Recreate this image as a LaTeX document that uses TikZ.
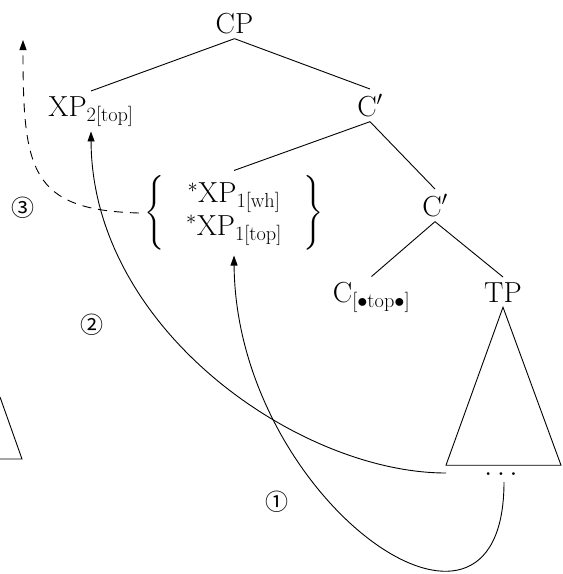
\RequirePackage{fix-cm}
\documentclass[tikz,border=0pt]{standalone}
\usepackage{exscale}
\usepackage{fontspec}
\newfontfamily\circfont{Noto Sans CJK JP}
\usetikzlibrary{arrows.meta}
\tikzset{
  tree/.style={inner sep=5pt, font=\fontsize{29}{32}\selectfont},
  circnum/.style={inner sep=0pt, font=\circfont\fontsize{23}{26}\selectfont},
  link/.style={line width=0.9pt},
  mover/.style={line width=0.9pt, -{Triangle[length=10pt,width=7pt]}},
}
\begin{document}
\begin{tikzpicture}[x=1pt,y=-1pt]
\useasboundingbox (0,0) rectangle (563,574);
% tree nodes
\node[tree, anchor=base] (cp) at (234.5,33) {$\mathrm{CP}$};
\node[tree, anchor=base] (xp) at (91,116) {$\mathrm{XP}_{2[\mathrm{top}]}$};
\node[tree, anchor=base] (c1) at (370,116) {$\mathrm{C}'$};
\node[tree] (br) at (234,213) {$\left\{\begin{array}{@{\hskip 22pt}c@{\hskip 22pt}}
  {}^{*}\mathrm{XP}_{1[\mathrm{wh}]}\\
  {}^{*}\mathrm{XP}_{1[\mathrm{top}]}
\end{array}\right\}$};
\node[tree, anchor=base] (c2) at (435,216) {$\mathrm{C}'$};
\node[tree, anchor=base] (cb) at (371.5,302) {$\mathrm{C}_{[\bullet\mathrm{top}\bullet]}$};
\node[tree, anchor=base] (tp) at (503,302) {$\mathrm{TP}$};
\node[tree, anchor=base, inner sep=2pt] (dots) at (501,475) {$\ldots$};
% branches
\draw[link] (cp.south) -- (xp.north);
\draw[link] (cp.south) -- (c1.north);
\draw[link] (c1.south) -- (br.north);
\draw[link] (c1.south) -- (c2.north);
\draw[link] (c2.south) -- (cb.north);
\draw[link] (c2.south) -- (tp.north);
\draw[link] (tp.south) -- ++(-57,158) -- ++(115,0) -- cycle;
% partial triangle at left edge
\draw[link] (0,397) -- (22,459) -- (0,459);
% movement arrows
\coordinate (s1) at (504,482);
\coordinate (s2) at (446,473);
\coordinate (t3) at (23,40);
\draw[mover] (s1) .. controls (504,690) and (236,500) .. (br.south);
\draw[mover] (s2) .. controls (300,473) and (92,330) .. (xp.south);
\draw[mover, dash pattern=on 9pt off 7pt] (br.west) .. controls (30,210) and (23,170) .. (t3);
% step numbers
\node[circnum] (n3) at (23,208) {③};
\node[circnum] (n2) at (92,325) {②};
\node[circnum] (n1) at (277,502) {①};
\end{tikzpicture}
\end{document}
